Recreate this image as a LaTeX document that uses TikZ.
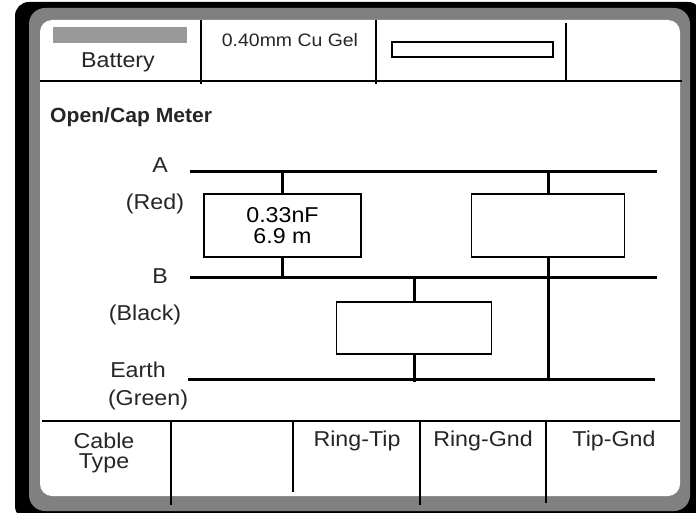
\documentclass[tikz,border=0pt]{standalone}
\usepackage{fontspec}
\setmainfont{Liberation Sans}
\newcommand\wx[1]{\scalebox{1.08}[1]{#1}}
\begin{document}
\begin{tikzpicture}[x=1pt,y=-1pt,
  bus/.style={line width=3pt},
  conn/.style={line width=3pt},
  valbox/.style={draw,line width=1.5pt,fill=white,inner sep=0pt,align=center,
    font=\fontsize{21.5}{22}\selectfont},
  grid/.style={line width=2.6pt},
  txt/.style={font=\fontsize{21.5}{22}\selectfont,inner sep=0pt,anchor=base,text=black!85},
  smalltxt/.style={font=\fontsize{18}{20}\selectfont,inner sep=0pt,anchor=base,text=black!85},
]
\useasboundingbox (0,0) rectangle (696,513);
\fill[white] (0,0) rectangle (696,513);
% frame
\fill[black, rounded corners=14pt] (15,2) rectangle (702,520);
\fill[gray, rounded corners=16pt] (29,8) rectangle (690,511);
\fill[white, rounded corners=12pt] (40,20) rectangle (680,496);
% top table
\fill[black!40] (53,27) rectangle (187,43);
\node[txt] (batt) at (118,68) {\wx{Battery}};
\node[smalltxt] (cable) at (290,47) {\wx{0.40mm Cu Gel}};
\draw[line width=1.5pt] (392,42) rectangle (553,57);
\coordinate (th1) at (40,81); \coordinate (th2) at (682,81);
\draw[grid] (th1) -- (th2);
\coordinate (tv1a) at (201,20); \coordinate (tv1b) at (201,84);
\coordinate (tv2a) at (376,20); \coordinate (tv2b) at (376,84);
\coordinate (tv3a) at (566,23); \coordinate (tv3b) at (566,80);
\draw[grid] (tv1a) -- (tv1b);
\draw[grid] (tv2a) -- (tv2b);
\draw[grid] (tv3a) -- (tv3b);
% title
\node[txt,anchor=base west,font=\fontsize{20.5}{22}\selectfont\bfseries] (title) at (50,123) {\scalebox{1.03}[1]{Open/Cap Meter}};
% wire labels
\node[txt] (la) at (160,173) {\wx{A}};
\node[txt] (lred) at (155,210) {\wx{(Red)}};
\node[txt] (lb) at (160,283) {\wx{B}};
\node[txt] (lblack) at (145,320) {\wx{(Black)}};
\node[txt] (le) at (138,377) {\wx{Earth}};
\node[txt] (lgreen) at (148,405) {\wx{(Green)}};
% buses
\coordinate (Aw) at (190,172); \coordinate (Ae) at (657,172);
\coordinate (Bw) at (190,277); \coordinate (Be) at (657,277);
\coordinate (Ew) at (188,379); \coordinate (Ee) at (655,379);
\draw[bus] (Aw) -- (Ae);
\draw[bus] (Bw) -- (Be);
\draw[bus] (Ew) -- (Ee);
% boxes
\node[valbox, minimum width=157pt, minimum height=63pt] (c1) at (282.5,225.5) {\wx{0.33nF}\\[-1pt]\wx{6.9 m}};
\node[valbox, minimum width=153pt, minimum height=63pt] (c2) at (548,225.5) {};
\node[valbox, minimum width=155pt, minimum height=52pt] (c3) at (414,328) {};
\draw[conn] (c1.north) -- (c1.north |- Aw);
\draw[conn] (c1.south) -- (c1.south |- Bw);
\draw[conn] (c2.north) -- (c2.north |- Aw);
\draw[conn] (c2.south) -- (c2.south |- Ew);
\draw[conn] (c3.north) -- (c3.north |- Bw);
\coordinate (c3end) at (414,382);
\draw[conn] (c3.south) -- (c3end);
% bottom table
\coordinate (bh1) at (42,421); \coordinate (bh2) at (680,421);
\draw[grid] (bh1) -- (bh2);
\coordinate (bv1a) at (171,421); \coordinate (bv1b) at (171,505);
\coordinate (bv2a) at (293,421); \coordinate (bv2b) at (293,492);
\coordinate (bv3a) at (420,421); \coordinate (bv3b) at (420,505);
\coordinate (bv4a) at (546,421); \coordinate (bv4b) at (546,503);
\draw[grid] (bv1a) -- (bv1b);
\draw[grid] (bv2a) -- (bv2b);
\draw[grid] (bv3a) -- (bv3b);
\draw[grid] (bv4a) -- (bv4b);
\node[txt,text depth=0pt] (ct1) at (104,448) {\wx{Cable}};
\node[txt,text height=15pt] (ct2) at (104,468) {\wx{Type}};
\node[txt] (rt) at (357,446) {\wx{Ring-Tip}};
\node[txt] (rg) at (483,446) {\wx{Ring-Gnd}};
\node[txt] (tg) at (614,446) {\wx{Tip-Gnd}};
\end{tikzpicture}
\end{document}
